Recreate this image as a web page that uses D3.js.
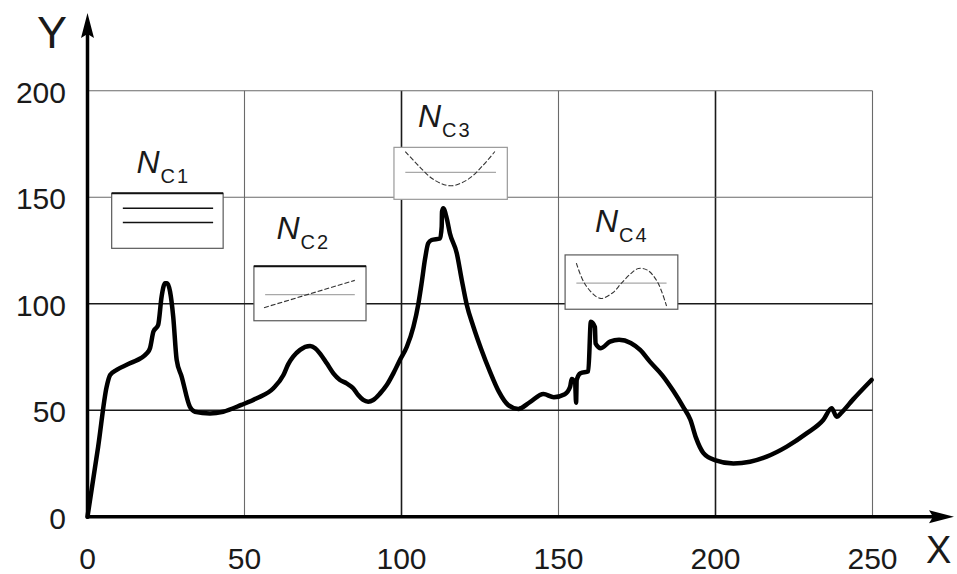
<!DOCTYPE html>
<html>
<head>
<meta charset="utf-8">
<script src="https://cdn.jsdelivr.net/npm/d3@7"></script>
<style>
  html, body { margin: 0; padding: 0; background: #fff; }
  svg { display: block; }
  text { font-family: "Liberation Sans", Arial, sans-serif; fill: #1a1a1a; }
</style>
</head>
<body>
<svg id="chart" width="957" height="574"></svg>
<script>
// ---------- data ----------
const xTicks = [0, 50, 100, 150, 200, 250];
const yTicks = [0, 50, 100, 150, 200];
const darkX = [100, 200];
const darkY = [50, 100];

const curveX = [0, 3.4, 6.1, 7.2, 9.3, 13.5, 18.9, 19.9, 21, 22.5, 23.6, 24.7, 25.4, 26.3, 27.3, 28.4, 30, 32.6, 34.2, 39, 43.2,
  49, 53.9, 59.2, 62.4, 63.9, 65.5, 67.7, 70.9, 72.5, 74, 76.2, 78.3, 80.4, 82.5, 84.6, 86.2, 87.8, 89.4, 91, 93.2, 95.3, 97.4,
  99.5, 101.7, 103.8, 105.4, 106.4, 107.5, 108.5, 109.6, 112.3, 112.8, 112.9, 113.3, 114.4, 115.4, 117.6, 119.2, 120.8, 122.9,
  125.3, 128.2, 131, 134, 137.2, 140.9, 145.2, 148.5, 152, 153.7, 154.2, 155.3, 155.6, 155.8, 157, 159.5, 160.3, 161.6, 161.8,
  163.5, 166.4, 169.3, 173, 176, 179.1, 183, 186.6, 189.7, 192, 193.8, 196.1, 199.8, 205.7, 211, 216.3, 222.7, 229, 234.3,
  237, 238.6, 240.2, 243.9, 249.7];
const curveY = [0, 32.9, 61, 66.5, 68.9, 72, 76.7, 79.1, 86.9, 90, 103.3, 109.6, 109.6, 105.6, 93.9, 73.6, 65.7, 51.6, 49.3, 48.5, 49.3,
  52.5, 55.6, 60.3, 66.5, 71.5, 75.1, 78.3, 80.1, 79.1, 76.7, 72, 67.3, 64.2, 62.6, 60.3, 57.1, 54.8, 54, 54.8, 57.9, 61.8, 67.3,
  73.6, 79.8, 89.2, 100.2, 109.6, 121, 128.4, 129.9, 130.7, 136.2, 143.2, 144.8, 140.1, 133.1, 123.7, 111.1, 99.4, 89.2,
  79, 68, 58.7, 52.4, 50.6, 53.8, 57.6, 56.1, 57.5, 61, 64.6, 62.6, 53.5, 64.2, 67.3, 68.3, 91.5, 89, 81.4,
  79.1, 82.2, 83.1, 81.6, 78.3, 72.8, 66.5, 59, 51.6, 45.5, 37, 30, 26.6, 25, 25.8, 28.2, 32.9, 39.1, 45.4,
  50.9, 46.9, 49, 55.2, 64.2];

// inset labels
const insetNames = ["C1", "C2", "C3", "C4"];
// inset boxes in data units [x0, x1, yTop, yBottom]
const insetX0 = [7.7, 53.0, 97.6, 152.1];
const insetX1 = [43.2, 88.7, 133.7, 188.0];
const insetYTop = [151.8, 117.6, 173.4, 122.9];
const insetYBot = [126.0, 92.0, 149.0, 97.4];

// ---------- layout ----------
const svg = d3.select("#chart");
const x = d3.scaleLinear().domain([0, 250]).range([87.5, 872.5]);
const y = d3.scaleLinear().domain([0, 200]).range([516.7, 90.7]);

// grid
const grid = svg.append("g");
grid.selectAll("line.v").data(xTicks.filter(d => d > 0)).join("line")
  .attr("x1", d => x(d)).attr("x2", d => x(d))
  .attr("y1", y(0)).attr("y2", y(200))
  .attr("stroke", d => darkX.includes(d) ? "#1a1a1a" : "#6a6a6a")
  .attr("stroke-width", d => darkX.includes(d) ? 1.6 : 1.1);
grid.selectAll("line.h").data(yTicks.filter(d => d > 0)).join("line")
  .attr("x1", x(0)).attr("x2", x(250))
  .attr("y1", d => y(d)).attr("y2", d => y(d))
  .attr("stroke", d => darkY.includes(d) ? "#1a1a1a" : "#6a6a6a")
  .attr("stroke-width", d => darkY.includes(d) ? 1.6 : 1.1);

// tick labels
svg.append("g").selectAll("text").data(yTicks).join("text")
  .attr("x", 66).attr("y", d => y(d) + 12)
  .attr("text-anchor", "end").attr("font-size", 30).text(d => d);
svg.append("g").selectAll("text").data(xTicks).join("text")
  .attr("x", d => x(d)).attr("y", 569)
  .attr("text-anchor", "middle").attr("font-size", 30).text(d => d);

// axes with arrows
svg.append("line").attr("x1", x(0)).attr("x2", x(0)).attr("y1", y(0) + 1.5).attr("y2", 30)
  .attr("stroke", "#000").attr("stroke-width", 3.5);
svg.append("path").attr("d", `M${x(0)},13 L${x(0) - 6.5},38 L${x(0)},34 L${x(0) + 6.5},38 Z`).attr("fill", "#000");
svg.append("line").attr("x1", x(0) - 1.5).attr("x2", 940).attr("y1", y(0)).attr("y2", y(0))
  .attr("stroke", "#000").attr("stroke-width", 3.5);
svg.append("path").attr("d", `M954,${y(0)} L929,${y(0) - 6.5} L933,${y(0)} L929,${y(0) + 6.5} Z`).attr("fill", "#000");

svg.append("text").attr("x", 37).attr("y", 48).attr("font-size", 45).text("Y");
svg.append("text").attr("x", 926).attr("y", 563).attr("font-size", 38).text("X");

// insets
const insets = svg.append("g");
// mini-curve glyphs in box-relative fractions
const glyphs = [
  null,
  [[0.09, 0.76], [0.90, 0.26]],
  [[0.10, 0.08], [0.22, 0.36], [0.35, 0.62], [0.50, 0.74], [0.65, 0.62], [0.78, 0.36], [0.89, 0.08]],
  [[0.10, 0.15], [0.18, 0.55], [0.31, 0.80], [0.42, 0.70], [0.50, 0.52], [0.58, 0.35], [0.65, 0.25], [0.73, 0.28], [0.82, 0.50], [0.90, 0.94]]
];
const refLineY = [null, 0.52, 0.48, 0.52];
const labelNx = [136.5, 276.5, 418, 595];
const labelNy = [173, 239.3, 126.7, 231.7];

insetNames.forEach((name, i) => {
  const bx0 = x(insetX0[i]), bx1 = x(insetX1[i]);
  const by0 = y(insetYTop[i]), by1 = y(insetYBot[i]);
  const w = bx1 - bx0, h = by1 - by0;
  const g = insets.append("g");
  g.append("rect").attr("x", bx0).attr("y", by0).attr("width", w).attr("height", h)
    .attr("fill", "#fff").attr("stroke", i === 2 ? "#9a9a9a" : "#5a5a5a").attr("stroke-width", 1.2);
  if (i < 2) {
    g.append("line").attr("x1", bx0).attr("x2", bx1).attr("y1", by0).attr("y2", by0)
      .attr("stroke", "#111").attr("stroke-width", 2);
  }
  if (i === 0) {
    [0.27, 0.53].forEach(f => {
      g.append("line").attr("x1", bx0 + 0.10 * w).attr("x2", bx0 + 0.91 * w)
        .attr("y1", by0 + f * h).attr("y2", by0 + f * h)
        .attr("stroke", "#111").attr("stroke-width", 1.6);
    });
  } else {
    g.append("line").attr("x1", bx0 + 0.10 * w).attr("x2", bx0 + 0.90 * w)
      .attr("y1", by0 + refLineY[i] * h).attr("y2", by0 + refLineY[i] * h)
      .attr("stroke", "#a8a8a8").attr("stroke-width", 1.2);
    const pts = glyphs[i].map(p => [bx0 + p[0] * w, by0 + p[1] * h]);
    g.append("path").attr("d", d3.line().curve(i === 1 ? d3.curveLinear : d3.curveCatmullRom)(pts))
      .attr("fill", "none").attr("stroke", "#333").attr("stroke-width", 1.1)
      .attr("stroke-dasharray", "5,2");
  }
  const t = g.append("text").attr("x", labelNx[i]).attr("y", labelNy[i]);
  t.append("tspan").attr("font-size", 32).attr("font-style", "italic").text("N");
  t.append("tspan").attr("font-size", 20).attr("dx", 1).attr("dy", 10).attr("letter-spacing", 2).text(name);
});

// main curve
const pts = curveX.map((d, i) => [d, curveY[i]]);
svg.append("path")
  .attr("d", d3.line().x(d => x(d[0])).y(d => y(d[1])).curve(d3.curveMonotoneX)(pts))
  .attr("fill", "none").attr("stroke", "#000").attr("stroke-width", 4.5)
  .attr("stroke-linejoin", "round").attr("stroke-linecap", "round");
</script>
</body>
</html>
